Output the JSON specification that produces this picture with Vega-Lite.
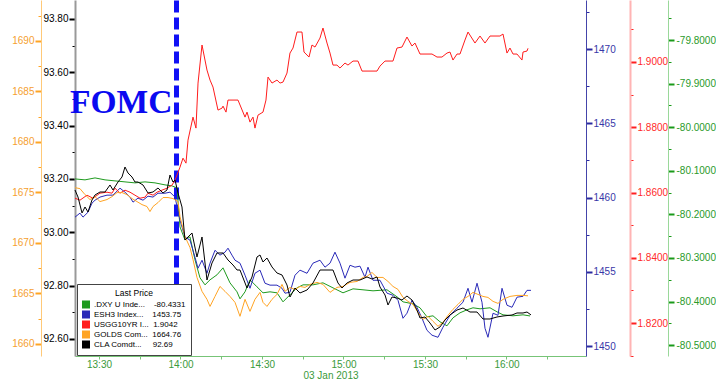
{
  "$schema": "https://vega.github.io/schema/vega-lite/v6.json",
  "width": 511,
  "height": 356,
  "autosize": {"type": "none"},
  "padding": {"left": 75, "right": 130, "top": 0, "bottom": 25},
  "background": "white",
  "title": {"text": "FOMC", "anchor": "start", "frame": "group", "orient": "top", "offset": 0, "dx": -5, "dy": 146, "baseline": "alphabetic", "font": "Liberation Serif", "fontSize": 33.5, "fontWeight": "bold", "color": "#0a0af0"},
  "config": {
    "view": {"stroke": null},
    "font": "Liberation Sans",
    "locale": {"number": {"decimal": ".", "thousands": ",", "grouping": [3], "currency": ["$", ""], "minus": "-"}},
    "axis": {"grid": false, "labelFont": "Liberation Sans", "labelFontSize": 10, "labelOverlap": false, "labelFlush": false}
  },
  "datasets": {
    "prices": [
      {"s":"DXY","t":"2013-01-03T13:21:10","v":-80.1186},
      {"s":"DXY","t":"2013-01-03T13:24:51","v":-80.1208},
      {"s":"DXY","t":"2013-01-03T13:28:32","v":-80.1163},
      {"s":"DXY","t":"2013-01-03T13:32:13","v":-80.1208},
      {"s":"DXY","t":"2013-01-03T13:35:53","v":-80.1231},
      {"s":"DXY","t":"2013-01-03T13:39:34","v":-80.1254},
      {"s":"DXY","t":"2013-01-03T13:43:15","v":-80.1277},
      {"s":"DXY","t":"2013-01-03T13:46:56","v":-80.1254},
      {"s":"DXY","t":"2013-01-03T13:50:37","v":-80.1277},
      {"s":"DXY","t":"2013-01-03T13:54:18","v":-80.1323},
      {"s":"DXY","t":"2013-01-03T13:56:52","v":-80.1346},
      {"s":"DXY","t":"2013-01-03T13:58:43","v":-80.1392},
      {"s":"DXY","t":"2013-01-03T13:59:49","v":-80.2287},
      {"s":"DXY","t":"2013-01-03T14:01:39","v":-80.2585},
      {"s":"DXY","t":"2013-01-03T14:03:30","v":-80.2516},
      {"s":"DXY","t":"2013-01-03T14:05:20","v":-80.3043},
      {"s":"DXY","t":"2013-01-03T14:07:11","v":-80.3456},
      {"s":"DXY","t":"2013-01-03T14:09:01","v":-80.3617},
      {"s":"DXY","t":"2013-01-03T14:10:52","v":-80.3502},
      {"s":"DXY","t":"2013-01-03T14:13:26","v":-80.3387},
      {"s":"DXY","t":"2013-01-03T14:15:39","v":-80.3227},
      {"s":"DXY","t":"2013-01-03T14:18:13","v":-80.3571},
      {"s":"DXY","t":"2013-01-03T14:20:48","v":-80.3777},
      {"s":"DXY","t":"2013-01-03T14:21:54","v":-80.3938},
      {"s":"DXY","t":"2013-01-03T14:23:45","v":-80.3777},
      {"s":"DXY","t":"2013-01-03T14:25:35","v":-80.3502},
      {"s":"DXY","t":"2013-01-03T14:28:10","v":-80.3663},
      {"s":"DXY","t":"2013-01-03T14:30:22","v":-80.3800},
      {"s":"DXY","t":"2013-01-03T14:32:57","v":-80.3777},
      {"s":"DXY","t":"2013-01-03T14:35:31","v":-80.3800},
      {"s":"DXY","t":"2013-01-03T14:37:44","v":-80.4007},
      {"s":"DXY","t":"2013-01-03T14:40:18","v":-80.3846},
      {"s":"DXY","t":"2013-01-03T14:42:53","v":-80.3686},
      {"s":"DXY","t":"2013-01-03T14:45:06","v":-80.3617},
      {"s":"DXY","t":"2013-01-03T14:48:46","v":-80.3617},
      {"s":"DXY","t":"2013-01-03T14:52:27","v":-80.3571},
      {"s":"DXY","t":"2013-01-03T14:56:08","v":-80.3686},
      {"s":"DXY","t":"2013-01-03T14:59:49","v":-80.3800},
      {"s":"DXY","t":"2013-01-03T15:03:30","v":-80.3709},
      {"s":"DXY","t":"2013-01-03T15:07:11","v":-80.3731},
      {"s":"DXY","t":"2013-01-03T15:10:52","v":-80.3754},
      {"s":"DXY","t":"2013-01-03T15:16:01","v":-80.3731},
      {"s":"DXY","t":"2013-01-03T15:19:42","v":-80.3892},
      {"s":"DXY","t":"2013-01-03T15:21:54","v":-80.4007},
      {"s":"DXY","t":"2013-01-03T15:25:35","v":-80.4053},
      {"s":"DXY","t":"2013-01-03T15:28:10","v":-80.4144},
      {"s":"DXY","t":"2013-01-03T15:30:44","v":-80.4351},
      {"s":"DXY","t":"2013-01-03T15:32:57","v":-80.4328},
      {"s":"DXY","t":"2013-01-03T15:35:31","v":-80.4465},
      {"s":"DXY","t":"2013-01-03T15:38:06","v":-80.4557},
      {"s":"DXY","t":"2013-01-03T15:40:18","v":-80.4374},
      {"s":"DXY","t":"2013-01-03T15:42:53","v":-80.4259},
      {"s":"DXY","t":"2013-01-03T15:45:28","v":-80.4190},
      {"s":"DXY","t":"2013-01-03T15:47:40","v":-80.4144},
      {"s":"DXY","t":"2013-01-03T15:50:15","v":-80.4167},
      {"s":"DXY","t":"2013-01-03T15:53:56","v":-80.4144},
      {"s":"DXY","t":"2013-01-03T15:56:30","v":-80.4236},
      {"s":"DXY","t":"2013-01-03T15:58:43","v":-80.4305},
      {"s":"DXY","t":"2013-01-03T16:02:24","v":-80.4328},
      {"s":"DXY","t":"2013-01-03T16:06:05","v":-80.4305},
      {"s":"DXY","t":"2013-01-03T16:08:39","v":-80.4331},

      {"s":"ESH3","t":"2013-01-03T13:21:10","v":1458.68},
      {"s":"ESH3","t":"2013-01-03T13:23:00","v":1458.95},
      {"s":"ESH3","t":"2013-01-03T13:24:07","v":1458.68},
      {"s":"ESH3","t":"2013-01-03T13:25:57","v":1459.01},
      {"s":"ESH3","t":"2013-01-03T13:27:25","v":1459.62},
      {"s":"ESH3","t":"2013-01-03T13:28:32","v":1459.82},
      {"s":"ESH3","t":"2013-01-03T13:30:22","v":1460.03},
      {"s":"ESH3","t":"2013-01-03T13:32:57","v":1460.16},
      {"s":"ESH3","t":"2013-01-03T13:35:09","v":1460.16},
      {"s":"ESH3","t":"2013-01-03T13:37:44","v":1460.63},
      {"s":"ESH3","t":"2013-01-03T13:39:34","v":1460.36},
      {"s":"ESH3","t":"2013-01-03T13:41:25","v":1460.03},
      {"s":"ESH3","t":"2013-01-03T13:42:31","v":1459.69},
      {"s":"ESH3","t":"2013-01-03T13:44:21","v":1459.96},
      {"s":"ESH3","t":"2013-01-03T13:46:12","v":1459.82},
      {"s":"ESH3","t":"2013-01-03T13:48:02","v":1460.09},
      {"s":"ESH3","t":"2013-01-03T13:49:53","v":1460.03},
      {"s":"ESH3","t":"2013-01-03T13:51:43","v":1460.29},
      {"s":"ESH3","t":"2013-01-03T13:54:18","v":1460.29},
      {"s":"ESH3","t":"2013-01-03T13:56:08","v":1460.36},
      {"s":"ESH3","t":"2013-01-03T13:57:59","v":1460.03},
      {"s":"ESH3","t":"2013-01-03T13:59:49","v":1458.48},
      {"s":"ESH3","t":"2013-01-03T14:01:39","v":1457.33},
      {"s":"ESH3","t":"2013-01-03T14:03:30","v":1457.13},
      {"s":"ESH3","t":"2013-01-03T14:05:20","v":1455.98},
      {"s":"ESH3","t":"2013-01-03T14:06:27","v":1455.24},
      {"s":"ESH3","t":"2013-01-03T14:07:55","v":1455.78},
      {"s":"ESH3","t":"2013-01-03T14:09:45","v":1454.90},
      {"s":"ESH3","t":"2013-01-03T14:10:52","v":1455.58},
      {"s":"ESH3","t":"2013-01-03T14:12:42","v":1456.45},
      {"s":"ESH3","t":"2013-01-03T14:14:32","v":1456.12},
      {"s":"ESH3","t":"2013-01-03T14:16:23","v":1456.32},
      {"s":"ESH3","t":"2013-01-03T14:17:29","v":1456.59},
      {"s":"ESH3","t":"2013-01-03T14:18:57","v":1456.12},
      {"s":"ESH3","t":"2013-01-03T14:20:04","v":1455.78},
      {"s":"ESH3","t":"2013-01-03T14:21:54","v":1455.58},
      {"s":"ESH3","t":"2013-01-03T14:23:45","v":1454.77},
      {"s":"ESH3","t":"2013-01-03T14:25:35","v":1453.89},
      {"s":"ESH3","t":"2013-01-03T14:27:25","v":1454.90},
      {"s":"ESH3","t":"2013-01-03T14:29:16","v":1455.11},
      {"s":"ESH3","t":"2013-01-03T14:31:06","v":1454.23},
      {"s":"ESH3","t":"2013-01-03T14:32:57","v":1454.10},
      {"s":"ESH3","t":"2013-01-03T14:35:31","v":1454.10},
      {"s":"ESH3","t":"2013-01-03T14:37:22","v":1453.89},
      {"s":"ESH3","t":"2013-01-03T14:38:28","v":1453.56},
      {"s":"ESH3","t":"2013-01-03T14:40:18","v":1453.62},
      {"s":"ESH3","t":"2013-01-03T14:42:09","v":1454.77},
      {"s":"ESH3","t":"2013-01-03T14:43:59","v":1455.11},
      {"s":"ESH3","t":"2013-01-03T14:46:34","v":1454.90},
      {"s":"ESH3","t":"2013-01-03T14:48:46","v":1455.58},
      {"s":"ESH3","t":"2013-01-03T14:51:21","v":1455.78},
      {"s":"ESH3","t":"2013-01-03T14:53:11","v":1455.31},
      {"s":"ESH3","t":"2013-01-03T14:55:02","v":1455.58},
      {"s":"ESH3","t":"2013-01-03T14:56:52","v":1456.32},
      {"s":"ESH3","t":"2013-01-03T14:58:43","v":1455.58},
      {"s":"ESH3","t":"2013-01-03T15:00:33","v":1454.57},
      {"s":"ESH3","t":"2013-01-03T15:02:24","v":1455.44},
      {"s":"ESH3","t":"2013-01-03T15:04:14","v":1455.31},
      {"s":"ESH3","t":"2013-01-03T15:06:04","v":1455.38},
      {"s":"ESH3","t":"2013-01-03T15:07:55","v":1454.63},
      {"s":"ESH3","t":"2013-01-03T15:09:01","v":1455.31},
      {"s":"ESH3","t":"2013-01-03T15:10:52","v":1454.43},
      {"s":"ESH3","t":"2013-01-03T15:13:26","v":1454.43},
      {"s":"ESH3","t":"2013-01-03T15:16:01","v":1453.56},
      {"s":"ESH3","t":"2013-01-03T15:18:13","v":1453.42},
      {"s":"ESH3","t":"2013-01-03T15:20:04","v":1453.08},
      {"s":"ESH3","t":"2013-01-03T15:21:54","v":1451.87},
      {"s":"ESH3","t":"2013-01-03T15:23:22","v":1452.21},
      {"s":"ESH3","t":"2013-01-03T15:25:13","v":1453.08},
      {"s":"ESH3","t":"2013-01-03T15:27:03","v":1452.61},
      {"s":"ESH3","t":"2013-01-03T15:28:54","v":1451.87},
      {"s":"ESH3","t":"2013-01-03T15:30:44","v":1451.06},
      {"s":"ESH3","t":"2013-01-03T15:32:35","v":1450.73},
      {"s":"ESH3","t":"2013-01-03T15:34:47","v":1450.59},
      {"s":"ESH3","t":"2013-01-03T15:36:38","v":1451.27},
      {"s":"ESH3","t":"2013-01-03T15:39:12","v":1452.07},
      {"s":"ESH3","t":"2013-01-03T15:41:47","v":1452.55},
      {"s":"ESH3","t":"2013-01-03T15:43:59","v":1452.95},
      {"s":"ESH3","t":"2013-01-03T15:45:50","v":1453.89},
      {"s":"ESH3","t":"2013-01-03T15:47:18","v":1452.95},
      {"s":"ESH3","t":"2013-01-03T15:49:09","v":1454.23},
      {"s":"ESH3","t":"2013-01-03T15:50:59","v":1452.95},
      {"s":"ESH3","t":"2013-01-03T15:52:05","v":1451.20},
      {"s":"ESH3","t":"2013-01-03T15:53:11","v":1450.59},
      {"s":"ESH3","t":"2013-01-03T15:55:02","v":1452.21},
      {"s":"ESH3","t":"2013-01-03T15:56:52","v":1452.07},
      {"s":"ESH3","t":"2013-01-03T15:58:21","v":1453.89},
      {"s":"ESH3","t":"2013-01-03T16:00:11","v":1452.75},
      {"s":"ESH3","t":"2013-01-03T16:02:02","v":1452.61},
      {"s":"ESH3","t":"2013-01-03T16:03:52","v":1453.29},
      {"s":"ESH3","t":"2013-01-03T16:06:05","v":1453.35},
      {"s":"ESH3","t":"2013-01-03T16:07:33","v":1453.75},
      {"s":"ESH3","t":"2013-01-03T16:09:01","v":1453.75},

      {"s":"USGG","t":"2013-01-03T13:21:10","v":1.85826},
      {"s":"USGG","t":"2013-01-03T13:23:00","v":1.85765},
      {"s":"USGG","t":"2013-01-03T13:25:35","v":1.85918},
      {"s":"USGG","t":"2013-01-03T13:27:47","v":1.85826},
      {"s":"USGG","t":"2013-01-03T13:30:22","v":1.85980},
      {"s":"USGG","t":"2013-01-03T13:32:57","v":1.86010},
      {"s":"USGG","t":"2013-01-03T13:34:47","v":1.85980},
      {"s":"USGG","t":"2013-01-03T13:35:53","v":1.86133},
      {"s":"USGG","t":"2013-01-03T13:37:44","v":1.85980},
      {"s":"USGG","t":"2013-01-03T13:39:34","v":1.86072},
      {"s":"USGG","t":"2013-01-03T13:41:25","v":1.86010},
      {"s":"USGG","t":"2013-01-03T13:43:15","v":1.85918},
      {"s":"USGG","t":"2013-01-03T13:45:06","v":1.85826},
      {"s":"USGG","t":"2013-01-03T13:46:56","v":1.85857},
      {"s":"USGG","t":"2013-01-03T13:48:02","v":1.85980},
      {"s":"USGG","t":"2013-01-03T13:49:53","v":1.85918},
      {"s":"USGG","t":"2013-01-03T13:51:21","v":1.86010},
      {"s":"USGG","t":"2013-01-03T13:53:11","v":1.86072},
      {"s":"USGG","t":"2013-01-03T13:55:02","v":1.86133},
      {"s":"USGG","t":"2013-01-03T13:56:52","v":1.86225},
      {"s":"USGG","t":"2013-01-03T13:57:59","v":1.86379},
      {"s":"USGG","t":"2013-01-03T13:59:49","v":1.86777},
      {"s":"USGG","t":"2013-01-03T14:00:55","v":1.87053},
      {"s":"USGG","t":"2013-01-03T14:02:01","v":1.86900},
      {"s":"USGG","t":"2013-01-03T14:02:46","v":1.87606},
      {"s":"USGG","t":"2013-01-03T14:04:36","v":1.88311},
      {"s":"USGG","t":"2013-01-03T14:05:42","v":1.87974},
      {"s":"USGG","t":"2013-01-03T14:06:27","v":1.89354},
      {"s":"USGG","t":"2013-01-03T14:07:55","v":1.90520},
      {"s":"USGG","t":"2013-01-03T14:09:45","v":1.89753},
      {"s":"USGG","t":"2013-01-03T14:10:52","v":1.89446},
      {"s":"USGG","t":"2013-01-03T14:11:58","v":1.89231},
      {"s":"USGG","t":"2013-01-03T14:13:48","v":1.88526},
      {"s":"USGG","t":"2013-01-03T14:15:17","v":1.88587},
      {"s":"USGG","t":"2013-01-03T14:15:39","v":1.88648},
      {"s":"USGG","t":"2013-01-03T14:16:45","v":1.88464},
      {"s":"USGG","t":"2013-01-03T14:17:29","v":1.88833},
      {"s":"USGG","t":"2013-01-03T14:19:20","v":1.88833},
      {"s":"USGG","t":"2013-01-03T14:21:10","v":1.88833},
      {"s":"USGG","t":"2013-01-03T14:23:45","v":1.88311},
      {"s":"USGG","t":"2013-01-03T14:24:29","v":1.88464},
      {"s":"USGG","t":"2013-01-03T14:25:35","v":1.88158},
      {"s":"USGG","t":"2013-01-03T14:26:41","v":1.88311},
      {"s":"USGG","t":"2013-01-03T14:27:25","v":1.87974},
      {"s":"USGG","t":"2013-01-03T14:28:32","v":1.88372},
      {"s":"USGG","t":"2013-01-03T14:30:22","v":1.88464},
      {"s":"USGG","t":"2013-01-03T14:31:28","v":1.88833},
      {"s":"USGG","t":"2013-01-03T14:32:13","v":1.89538},
      {"s":"USGG","t":"2013-01-03T14:33:41","v":1.89354},
      {"s":"USGG","t":"2013-01-03T14:35:31","v":1.89446},
      {"s":"USGG","t":"2013-01-03T14:36:38","v":1.89354},
      {"s":"USGG","t":"2013-01-03T14:37:44","v":1.89385},
      {"s":"USGG","t":"2013-01-03T14:39:12","v":1.89661},
      {"s":"USGG","t":"2013-01-03T14:40:18","v":1.90274},
      {"s":"USGG","t":"2013-01-03T14:41:25","v":1.90428},
      {"s":"USGG","t":"2013-01-03T14:42:53","v":1.90918},
      {"s":"USGG","t":"2013-01-03T14:44:43","v":1.90918},
      {"s":"USGG","t":"2013-01-03T14:45:28","v":1.90305},
      {"s":"USGG","t":"2013-01-03T14:47:18","v":1.90152},
      {"s":"USGG","t":"2013-01-03T14:48:24","v":1.90520},
      {"s":"USGG","t":"2013-01-03T14:49:31","v":1.90458},
      {"s":"USGG","t":"2013-01-03T14:51:21","v":1.90734},
      {"s":"USGG","t":"2013-01-03T14:52:27","v":1.91041},
      {"s":"USGG","t":"2013-01-03T14:53:56","v":1.90581},
      {"s":"USGG","t":"2013-01-03T14:55:02","v":1.90274},
      {"s":"USGG","t":"2013-01-03T14:56:08","v":1.89906},
      {"s":"USGG","t":"2013-01-03T14:57:36","v":1.89906},
      {"s":"USGG","t":"2013-01-03T14:58:43","v":1.89814},
      {"s":"USGG","t":"2013-01-03T15:00:33","v":1.89968},
      {"s":"USGG","t":"2013-01-03T15:01:39","v":1.89906},
      {"s":"USGG","t":"2013-01-03T15:03:30","v":1.90029},
      {"s":"USGG","t":"2013-01-03T15:05:20","v":1.90029},
      {"s":"USGG","t":"2013-01-03T15:06:49","v":1.89722},
      {"s":"USGG","t":"2013-01-03T15:12:20","v":1.89722},
      {"s":"USGG","t":"2013-01-03T15:13:26","v":1.89875},
      {"s":"USGG","t":"2013-01-03T15:15:17","v":1.90029},
      {"s":"USGG","t":"2013-01-03T15:18:13","v":1.90029},
      {"s":"USGG","t":"2013-01-03T15:19:42","v":1.90428},
      {"s":"USGG","t":"2013-01-03T15:21:32","v":1.90458},
      {"s":"USGG","t":"2013-01-03T15:23:22","v":1.90765},
      {"s":"USGG","t":"2013-01-03T15:25:13","v":1.90489},
      {"s":"USGG","t":"2013-01-03T15:26:19","v":1.90581},
      {"s":"USGG","t":"2013-01-03T15:28:10","v":1.90244},
      {"s":"USGG","t":"2013-01-03T15:32:35","v":1.90244},
      {"s":"USGG","t":"2013-01-03T15:34:25","v":1.90152},
      {"s":"USGG","t":"2013-01-03T15:36:15","v":1.90152},
      {"s":"USGG","t":"2013-01-03T15:38:06","v":1.90274},
      {"s":"USGG","t":"2013-01-03T15:39:12","v":1.90305},
      {"s":"USGG","t":"2013-01-03T15:40:18","v":1.90060},
      {"s":"USGG","t":"2013-01-03T15:41:47","v":1.90244},
      {"s":"USGG","t":"2013-01-03T15:42:53","v":1.90244},
      {"s":"USGG","t":"2013-01-03T15:44:43","v":1.90673},
      {"s":"USGG","t":"2013-01-03T15:45:50","v":1.90918},
      {"s":"USGG","t":"2013-01-03T15:48:24","v":1.90581},
      {"s":"USGG","t":"2013-01-03T15:50:15","v":1.90796},
      {"s":"USGG","t":"2013-01-03T15:52:05","v":1.90581},
      {"s":"USGG","t":"2013-01-03T15:53:56","v":1.90796},
      {"s":"USGG","t":"2013-01-03T15:57:36","v":1.90796},
      {"s":"USGG","t":"2013-01-03T15:58:43","v":1.90857},
      {"s":"USGG","t":"2013-01-03T16:00:11","v":1.90274},
      {"s":"USGG","t":"2013-01-03T16:01:17","v":1.90428},
      {"s":"USGG","t":"2013-01-03T16:02:24","v":1.90244},
      {"s":"USGG","t":"2013-01-03T16:03:52","v":1.90244},
      {"s":"USGG","t":"2013-01-03T16:05:42","v":1.90060},
      {"s":"USGG","t":"2013-01-03T16:06:05","v":1.90305},
      {"s":"USGG","t":"2013-01-03T16:07:33","v":1.90336},
      {"s":"USGG","t":"2013-01-03T16:07:55","v":1.90420},

      {"s":"GOLDS","t":"2013-01-03T13:21:10","v":1675.47},
      {"s":"GOLDS","t":"2013-01-03T13:23:00","v":1675.37},
      {"s":"GOLDS","t":"2013-01-03T13:24:51","v":1674.78},
      {"s":"GOLDS","t":"2013-01-03T13:26:41","v":1674.29},
      {"s":"GOLDS","t":"2013-01-03T13:28:32","v":1674.58},
      {"s":"GOLDS","t":"2013-01-03T13:30:22","v":1674.09},
      {"s":"GOLDS","t":"2013-01-03T13:32:57","v":1674.29},
      {"s":"GOLDS","t":"2013-01-03T13:34:47","v":1674.58},
      {"s":"GOLDS","t":"2013-01-03T13:36:38","v":1674.98},
      {"s":"GOLDS","t":"2013-01-03T13:38:28","v":1674.98},
      {"s":"GOLDS","t":"2013-01-03T13:40:18","v":1674.78},
      {"s":"GOLDS","t":"2013-01-03T13:42:09","v":1674.39},
      {"s":"GOLDS","t":"2013-01-03T13:43:59","v":1674.09},
      {"s":"GOLDS","t":"2013-01-03T13:45:50","v":1673.79},
      {"s":"GOLDS","t":"2013-01-03T13:47:40","v":1673.60},
      {"s":"GOLDS","t":"2013-01-03T13:48:46","v":1673.10},
      {"s":"GOLDS","t":"2013-01-03T13:49:53","v":1673.60},
      {"s":"GOLDS","t":"2013-01-03T13:51:43","v":1673.99},
      {"s":"GOLDS","t":"2013-01-03T13:53:34","v":1674.49},
      {"s":"GOLDS","t":"2013-01-03T13:55:24","v":1674.49},
      {"s":"GOLDS","t":"2013-01-03T13:57:14","v":1674.39},
      {"s":"GOLDS","t":"2013-01-03T13:59:05","v":1674.09},
      {"s":"GOLDS","t":"2013-01-03T13:59:49","v":1672.61},
      {"s":"GOLDS","t":"2013-01-03T14:01:39","v":1670.63},
      {"s":"GOLDS","t":"2013-01-03T14:03:30","v":1669.54},
      {"s":"GOLDS","t":"2013-01-03T14:04:36","v":1668.36},
      {"s":"GOLDS","t":"2013-01-03T14:06:04","v":1666.58},
      {"s":"GOLDS","t":"2013-01-03T14:07:55","v":1665.20},
      {"s":"GOLDS","t":"2013-01-03T14:09:45","v":1664.41},
      {"s":"GOLDS","t":"2013-01-03T14:10:52","v":1663.71},
      {"s":"GOLDS","t":"2013-01-03T14:12:42","v":1664.70},
      {"s":"GOLDS","t":"2013-01-03T14:14:32","v":1665.69},
      {"s":"GOLDS","t":"2013-01-03T14:16:23","v":1665.20},
      {"s":"GOLDS","t":"2013-01-03T14:18:13","v":1664.70},
      {"s":"GOLDS","t":"2013-01-03T14:20:04","v":1664.11},
      {"s":"GOLDS","t":"2013-01-03T14:21:54","v":1662.73},
      {"s":"GOLDS","t":"2013-01-03T14:23:45","v":1664.41},
      {"s":"GOLDS","t":"2013-01-03T14:25:35","v":1663.22},
      {"s":"GOLDS","t":"2013-01-03T14:27:25","v":1664.41},
      {"s":"GOLDS","t":"2013-01-03T14:29:16","v":1665.10},
      {"s":"GOLDS","t":"2013-01-03T14:30:22","v":1664.11},
      {"s":"GOLDS","t":"2013-01-03T14:31:50","v":1663.71},
      {"s":"GOLDS","t":"2013-01-03T14:33:41","v":1664.41},
      {"s":"GOLDS","t":"2013-01-03T14:35:31","v":1664.90},
      {"s":"GOLDS","t":"2013-01-03T14:37:22","v":1665.89},
      {"s":"GOLDS","t":"2013-01-03T14:38:28","v":1665.20},
      {"s":"GOLDS","t":"2013-01-03T14:40:18","v":1665.59},
      {"s":"GOLDS","t":"2013-01-03T14:42:09","v":1665.39},
      {"s":"GOLDS","t":"2013-01-03T14:43:59","v":1665.69},
      {"s":"GOLDS","t":"2013-01-03T14:45:50","v":1665.59},
      {"s":"GOLDS","t":"2013-01-03T14:47:40","v":1665.89},
      {"s":"GOLDS","t":"2013-01-03T14:50:15","v":1666.09},
      {"s":"GOLDS","t":"2013-01-03T14:52:27","v":1665.89},
      {"s":"GOLDS","t":"2013-01-03T14:55:02","v":1665.10},
      {"s":"GOLDS","t":"2013-01-03T14:57:36","v":1665.59},
      {"s":"GOLDS","t":"2013-01-03T14:59:49","v":1665.69},
      {"s":"GOLDS","t":"2013-01-03T15:02:24","v":1666.09},
      {"s":"GOLDS","t":"2013-01-03T15:04:58","v":1666.18},
      {"s":"GOLDS","t":"2013-01-03T15:07:11","v":1666.58},
      {"s":"GOLDS","t":"2013-01-03T15:08:39","v":1666.68},
      {"s":"GOLDS","t":"2013-01-03T15:10:29","v":1667.07},
      {"s":"GOLDS","t":"2013-01-03T15:12:20","v":1666.58},
      {"s":"GOLDS","t":"2013-01-03T15:14:32","v":1666.58},
      {"s":"GOLDS","t":"2013-01-03T15:16:23","v":1666.18},
      {"s":"GOLDS","t":"2013-01-03T15:18:13","v":1665.69},
      {"s":"GOLDS","t":"2013-01-03T15:20:04","v":1665.39},
      {"s":"GOLDS","t":"2013-01-03T15:21:54","v":1664.60},
      {"s":"GOLDS","t":"2013-01-03T15:23:45","v":1664.21},
      {"s":"GOLDS","t":"2013-01-03T15:25:35","v":1663.91},
      {"s":"GOLDS","t":"2013-01-03T15:27:25","v":1663.12},
      {"s":"GOLDS","t":"2013-01-03T15:29:16","v":1662.43},
      {"s":"GOLDS","t":"2013-01-03T15:31:06","v":1662.73},
      {"s":"GOLDS","t":"2013-01-03T15:32:57","v":1662.23},
      {"s":"GOLDS","t":"2013-01-03T15:34:47","v":1661.74},
      {"s":"GOLDS","t":"2013-01-03T15:36:38","v":1662.13},
      {"s":"GOLDS","t":"2013-01-03T15:38:28","v":1662.83},
      {"s":"GOLDS","t":"2013-01-03T15:40:18","v":1663.42},
      {"s":"GOLDS","t":"2013-01-03T15:42:09","v":1663.91},
      {"s":"GOLDS","t":"2013-01-03T15:43:59","v":1664.41},
      {"s":"GOLDS","t":"2013-01-03T15:45:50","v":1664.70},
      {"s":"GOLDS","t":"2013-01-03T15:47:40","v":1665.10},
      {"s":"GOLDS","t":"2013-01-03T15:49:31","v":1664.90},
      {"s":"GOLDS","t":"2013-01-03T15:51:21","v":1664.70},
      {"s":"GOLDS","t":"2013-01-03T15:53:11","v":1664.60},
      {"s":"GOLDS","t":"2013-01-03T15:55:02","v":1664.21},
      {"s":"GOLDS","t":"2013-01-03T15:56:52","v":1664.01},
      {"s":"GOLDS","t":"2013-01-03T15:58:43","v":1664.41},
      {"s":"GOLDS","t":"2013-01-03T16:01:17","v":1664.70},
      {"s":"GOLDS","t":"2013-01-03T16:03:52","v":1664.80},
      {"s":"GOLDS","t":"2013-01-03T16:06:05","v":1664.80},
      {"s":"GOLDS","t":"2013-01-03T16:07:55","v":1664.76},

      {"s":"CLA","t":"2013-01-03T13:21:10","v":93.1585},
      {"s":"CLA","t":"2013-01-03T13:22:16","v":93.1323},
      {"s":"CLA","t":"2013-01-03T13:23:45","v":93.0723},
      {"s":"CLA","t":"2013-01-03T13:24:51","v":93.0948},
      {"s":"CLA","t":"2013-01-03T13:25:57","v":93.0760},
      {"s":"CLA","t":"2013-01-03T13:27:25","v":93.1210},
      {"s":"CLA","t":"2013-01-03T13:28:32","v":93.1398},
      {"s":"CLA","t":"2013-01-03T13:30:22","v":93.1510},
      {"s":"CLA","t":"2013-01-03T13:32:13","v":93.1510},
      {"s":"CLA","t":"2013-01-03T13:34:03","v":93.1773},
      {"s":"CLA","t":"2013-01-03T13:35:09","v":93.1585},
      {"s":"CLA","t":"2013-01-03T13:37:00","v":93.1885},
      {"s":"CLA","t":"2013-01-03T13:38:28","v":93.2073},
      {"s":"CLA","t":"2013-01-03T13:39:34","v":93.2448},
      {"s":"CLA","t":"2013-01-03T13:40:40","v":93.2223},
      {"s":"CLA","t":"2013-01-03T13:42:09","v":93.2073},
      {"s":"CLA","t":"2013-01-03T13:43:15","v":93.1885},
      {"s":"CLA","t":"2013-01-03T13:44:21","v":93.1885},
      {"s":"CLA","t":"2013-01-03T13:46:12","v":93.1773},
      {"s":"CLA","t":"2013-01-03T13:48:02","v":93.1473},
      {"s":"CLA","t":"2013-01-03T13:49:53","v":93.1510},
      {"s":"CLA","t":"2013-01-03T13:51:43","v":93.1660},
      {"s":"CLA","t":"2013-01-03T13:53:34","v":93.1473},
      {"s":"CLA","t":"2013-01-03T13:55:02","v":93.1585},
      {"s":"CLA","t":"2013-01-03T13:56:08","v":93.2148},
      {"s":"CLA","t":"2013-01-03T13:57:14","v":93.1885},
      {"s":"CLA","t":"2013-01-03T13:57:59","v":93.1960},
      {"s":"CLA","t":"2013-01-03T13:59:05","v":93.1473},
      {"s":"CLA","t":"2013-01-03T14:00:33","v":93.0948},
      {"s":"CLA","t":"2013-01-03T14:01:39","v":92.9710},
      {"s":"CLA","t":"2013-01-03T14:02:46","v":92.9823},
      {"s":"CLA","t":"2013-01-03T14:04:14","v":92.9973},
      {"s":"CLA","t":"2013-01-03T14:06:04","v":92.9073},
      {"s":"CLA","t":"2013-01-03T14:07:55","v":92.9823},
      {"s":"CLA","t":"2013-01-03T14:09:45","v":92.8210},
      {"s":"CLA","t":"2013-01-03T14:11:36","v":92.8848},
      {"s":"CLA","t":"2013-01-03T14:13:26","v":92.9223},
      {"s":"CLA","t":"2013-01-03T14:15:39","v":92.9223},
      {"s":"CLA","t":"2013-01-03T14:17:29","v":92.8960},
      {"s":"CLA","t":"2013-01-03T14:19:20","v":92.8773},
      {"s":"CLA","t":"2013-01-03T14:20:48","v":92.8585},
      {"s":"CLA","t":"2013-01-03T14:21:54","v":92.8585},
      {"s":"CLA","t":"2013-01-03T14:24:29","v":92.7910},
      {"s":"CLA","t":"2013-01-03T14:26:19","v":92.8323},
      {"s":"CLA","t":"2013-01-03T14:28:10","v":92.9073},
      {"s":"CLA","t":"2013-01-03T14:29:16","v":92.9148},
      {"s":"CLA","t":"2013-01-03T14:30:22","v":92.8885},
      {"s":"CLA","t":"2013-01-03T14:31:50","v":92.9035},
      {"s":"CLA","t":"2013-01-03T14:33:41","v":92.8698},
      {"s":"CLA","t":"2013-01-03T14:35:31","v":92.8473},
      {"s":"CLA","t":"2013-01-03T14:37:22","v":92.8398},
      {"s":"CLA","t":"2013-01-03T14:39:12","v":92.8023},
      {"s":"CLA","t":"2013-01-03T14:40:18","v":92.7573},
      {"s":"CLA","t":"2013-01-03T14:42:09","v":92.7910},
      {"s":"CLA","t":"2013-01-03T14:43:59","v":92.7723},
      {"s":"CLA","t":"2013-01-03T14:46:34","v":92.7835},
      {"s":"CLA","t":"2013-01-03T14:48:46","v":92.8098},
      {"s":"CLA","t":"2013-01-03T14:51:21","v":92.8585},
      {"s":"CLA","t":"2013-01-03T14:53:56","v":92.8585},
      {"s":"CLA","t":"2013-01-03T14:56:08","v":92.8585},
      {"s":"CLA","t":"2013-01-03T14:57:58","v":92.8098},
      {"s":"CLA","t":"2013-01-03T14:59:27","v":92.7910},
      {"s":"CLA","t":"2013-01-03T15:01:17","v":92.8098},
      {"s":"CLA","t":"2013-01-03T15:03:30","v":92.8210},
      {"s":"CLA","t":"2013-01-03T15:06:04","v":92.8210},
      {"s":"CLA","t":"2013-01-03T15:08:39","v":92.8323},
      {"s":"CLA","t":"2013-01-03T15:10:29","v":92.8248},
      {"s":"CLA","t":"2013-01-03T15:12:20","v":92.8323},
      {"s":"CLA","t":"2013-01-03T15:13:26","v":92.7948},
      {"s":"CLA","t":"2013-01-03T15:15:17","v":92.7648},
      {"s":"CLA","t":"2013-01-03T15:16:23","v":92.7273},
      {"s":"CLA","t":"2013-01-03T15:17:51","v":92.7573},
      {"s":"CLA","t":"2013-01-03T15:19:42","v":92.7535},
      {"s":"CLA","t":"2013-01-03T15:21:32","v":92.7460},
      {"s":"CLA","t":"2013-01-03T15:23:22","v":92.7610},
      {"s":"CLA","t":"2013-01-03T15:25:13","v":92.7460},
      {"s":"CLA","t":"2013-01-03T15:27:03","v":92.7085},
      {"s":"CLA","t":"2013-01-03T15:28:10","v":92.6785},
      {"s":"CLA","t":"2013-01-03T15:30:00","v":92.6823},
      {"s":"CLA","t":"2013-01-03T15:31:50","v":92.6598},
      {"s":"CLA","t":"2013-01-03T15:33:41","v":92.6335},
      {"s":"CLA","t":"2013-01-03T15:35:31","v":92.6448},
      {"s":"CLA","t":"2013-01-03T15:37:22","v":92.6710},
      {"s":"CLA","t":"2013-01-03T15:39:12","v":92.6898},
      {"s":"CLA","t":"2013-01-03T15:41:47","v":92.7085},
      {"s":"CLA","t":"2013-01-03T15:43:59","v":92.7160},
      {"s":"CLA","t":"2013-01-03T15:46:34","v":92.7010},
      {"s":"CLA","t":"2013-01-03T15:49:09","v":92.7010},
      {"s":"CLA","t":"2013-01-03T15:51:21","v":92.6748},
      {"s":"CLA","t":"2013-01-03T15:53:56","v":92.6748},
      {"s":"CLA","t":"2013-01-03T15:56:30","v":92.6823},
      {"s":"CLA","t":"2013-01-03T15:58:43","v":92.6860},
      {"s":"CLA","t":"2013-01-03T16:02:02","v":92.6898},
      {"s":"CLA","t":"2013-01-03T16:03:52","v":92.6973},
      {"s":"CLA","t":"2013-01-03T16:06:05","v":92.6973},
      {"s":"CLA","t":"2013-01-03T16:07:33","v":92.7010},
      {"s":"CLA","t":"2013-01-03T16:09:01","v":92.6900}
    ]
  },
  "data": {"name": "prices"},
  "encoding": {
    "x": {
      "field": "t", "type": "temporal",
      "scale": {"domain": [{"year": 2013, "month": 1, "date": 3, "hours": 13, "minutes": 21, "seconds": 10}, {"year": 2013, "month": 1, "date": 3, "hours": 16, "minutes": 29, "seconds": 16}]},
      "axis": {
        "title": "03 Jan 2013", "titleColor": "#3a9a3a", "titleFontSize": 10, "titleFontWeight": "normal", "titleFont": "Liberation Sans", "titlePadding": 1,
        "values": [
          {"year": 2013, "month": 1, "date": 3, "hours": 13, "minutes": 30},
          {"year": 2013, "month": 1, "date": 3, "hours": 13, "minutes": 45},
          {"year": 2013, "month": 1, "date": 3, "hours": 13, "minutes": 58, "seconds": 21},
          {"year": 2013, "month": 1, "date": 3, "hours": 14, "minutes": 0},
          {"year": 2013, "month": 1, "date": 3, "hours": 14, "minutes": 15},
          {"year": 2013, "month": 1, "date": 3, "hours": 14, "minutes": 30},
          {"year": 2013, "month": 1, "date": 3, "hours": 14, "minutes": 45},
          {"year": 2013, "month": 1, "date": 3, "hours": 15, "minutes": 0},
          {"year": 2013, "month": 1, "date": 3, "hours": 15, "minutes": 15},
          {"year": 2013, "month": 1, "date": 3, "hours": 15, "minutes": 30},
          {"year": 2013, "month": 1, "date": 3, "hours": 15, "minutes": 45},
          {"year": 2013, "month": 1, "date": 3, "hours": 16, "minutes": 0},
          {"year": 2013, "month": 1, "date": 3, "hours": 16, "minutes": 15}
        ],
        "labelExpr": "minutes(datum.value) % 30 == 0 ? timeFormat(datum.value, '%H:%M') : ''",
        "labelColor": "#3a9a3a", "labelFontSize": 10, "labelPadding": 0,
        "domainColor": "#77c477", "tickColor": "#77c477",
        "tickSize": {"condition": {"test": "minutes(datum.value) % 15 == 0", "value": 3}, "value": 0},
        "grid": true, "gridColor": "#1010f5", "gridWidth": 5, "gridDash": [12, 5],
        "gridOpacity": {"condition": {"test": "minutes(datum.value) % 15 == 0", "value": 0}, "value": 1}
      }
    },
    "color": {
      "field": "s", "type": "nominal",
      "scale": {"domain": ["DXY", "ESH3", "USGG", "GOLDS", "CLA"], "range": ["#1e9a1e", "#2a2ab8", "#ff1c1c", "#ffa424", "#000000"]},
      "legend": {
        "orient": "none", "legendX": 2, "legendY": 284, "zindex": 1,
        "title": "Last Price", "titleAnchor": "middle", "titleFont": "Liberation Sans", "titleFontSize": 8.5, "titleFontWeight": "normal", "titleColor": "#000", "titlePadding": 2,
        "fillColor": "white", "strokeColor": "#444", "padding": 5,
        "symbolType": "square", "symbolSize": 16, "symbolStrokeWidth": 4, "symbolOpacity": 1,
        "clipHeight": 10, "rowPadding": 0,
        "labelFont": "Liberation Sans", "labelFontSize": 8, "labelColor": "#000", "labelOffset": 4, "labelLimit": 200,
        "labelExpr": "datum.label == 'DXY' ? '.DXY U Inde...\u00a0\u00a0\u00a0\u00a0-80.4331' : datum.label == 'ESH3' ? 'ESH3 Index...\u00a0\u00a0\u00a0\u00a01453.75' : datum.label == 'USGG' ? 'USGG10YR I...\u00a0\u00a01.9042' : datum.label == 'GOLDS' ? 'GOLDS Com...\u00a0\u00a01664.76' : 'CLA Comdt...\u00a0\u00a0\u00a0\u00a0\u00a092.69'"
      }
    }
  },
  "resolve": {"scale": {"y": "independent"}},
  "layer": [
    {
      "transform": [{"filter": "datum.s === 'DXY'"}],
      "encoding": {
        "y": {"field": "v", "type": "quantitative",
          "scale": {"domain": [-80.525, -79.708], "nice": false, "zero": false},
          "axis": {"orient": "right", "offset": 82, "title": null,
            "values": [-80.5, -80.45, -80.4, -80.35, -80.3, -80.25, -80.2, -80.15, -80.1, -80.05, -80.0, -79.95, -79.9, -79.85, -79.8, -79.75],
            "labelExpr": "round(datum.value*20) % 2 == 0 ? format(datum.value, '.4f') : ''",
            "labelColor": "#2a9a2a", "labelPadding": 2, "domainColor": "#9ad89a", "tickColor": "#1a9a1a",
            "tickSize": {"condition": {"test": "round(datum.value*20) % 2 == 0", "value": 6}, "value": 3},
            "tickWidth": {"condition": {"test": "round(datum.value*20) % 2 == 0", "value": 2}, "value": 1}}}
      },
      "layer": [
        {"mark": {"type": "line", "strokeWidth": 1}}
      ]
    },
    {
      "transform": [{"filter": "datum.s === 'ESH3'"}],
      "encoding": {
        "y": {"field": "v", "type": "quantitative",
          "scale": {"domain": [1449.33, 1473.3], "nice": false, "zero": false},
          "axis": {"orient": "right", "offset": 0, "title": null,
            "values": [1450, 1452.5, 1455, 1457.5, 1460, 1462.5, 1465, 1467.5, 1470, 1472.5],
            "labelExpr": "datum.value % 5 == 0 ? format(datum.value, 'd') : ''",
            "labelColor": "#3838a8", "labelPadding": 1, "domainColor": "#4444aa", "tickColor": "#2a2aa0",
            "tickSize": {"condition": {"test": "datum.value % 5 == 0", "value": 6}, "value": 3},
            "tickWidth": {"condition": {"test": "datum.value % 5 == 0", "value": 2}, "value": 1}}}
      },
      "layer": [
        {"mark": {"type": "line", "strokeWidth": 1}}
      ]
    },
    {
      "transform": [{"filter": "datum.s === 'USGG'"}],
      "encoding": {
        "y": {"field": "v", "type": "quantitative",
          "scale": {"domain": [1.8099, 1.919], "nice": false, "zero": false},
          "axis": {"orient": "right", "offset": 44, "title": null,
            "values": [1.81, 1.82, 1.83, 1.84, 1.85, 1.86, 1.87, 1.88, 1.89, 1.9, 1.91],
            "labelExpr": "round(datum.value*100) % 2 == 0 ? format(datum.value, '.4f') : ''",
            "labelColor": "#ff2a2a", "labelPadding": 1, "domainColor": "#ffb4b4", "domainWidth": 2, "tickColor": "#ff2020",
            "tickSize": {"condition": {"test": "round(datum.value*100) % 2 == 0", "value": 6}, "value": 3},
            "tickWidth": {"condition": {"test": "round(datum.value*100) % 2 == 0", "value": 2}, "value": 1}}}
      },
      "layer": [
        {"mark": {"type": "line", "strokeWidth": 1}}
      ]
    },
    {
      "transform": [{"filter": "datum.s === 'GOLDS'"}],
      "encoding": {
        "y": {"field": "v", "type": "quantitative",
          "scale": {"domain": [1658.8, 1694.05], "nice": false, "zero": false},
          "axis": {"orient": "left", "offset": 34, "title": null,
            "values": [1660, 1662.5, 1665, 1667.5, 1670, 1672.5, 1675, 1677.5, 1680, 1682.5, 1685, 1687.5, 1690, 1692.5],
            "labelExpr": "datum.value % 5 == 0 ? format(datum.value, 'd') : ''",
            "labelColor": "#f5a030", "labelPadding": 1, "domainColor": "#ffc978", "tickColor": "#ffa424",
            "tickSize": {"condition": {"test": "datum.value % 5 == 0", "value": 6}, "value": 3},
            "tickWidth": {"condition": {"test": "datum.value % 5 == 0", "value": 2}, "value": 1}}}
      },
      "layer": [
        {"mark": {"type": "line", "strokeWidth": 1}}
      ]
    },
    {
      "transform": [{"filter": "datum.s === 'CLA'"}],
      "encoding": {
        "y": {"field": "v", "type": "quantitative",
          "scale": {"domain": [92.536, 93.871], "nice": false, "zero": false},
          "axis": {"orient": "left", "offset": 0, "title": null,
            "values": [92.6, 92.7, 92.8, 92.9, 93.0, 93.1, 93.2, 93.3, 93.4, 93.5, 93.6, 93.7, 93.8],
            "labelExpr": "round(datum.value*10) % 2 == 0 ? format(datum.value, '.2f') : ''",
            "labelColor": "#000", "labelPadding": 1, "domainColor": "#999999", "domainWidth": 2, "tickColor": "#000",
            "tickSize": {"condition": {"test": "round(datum.value*10) % 2 == 0", "value": 6}, "value": 3},
            "tickWidth": {"condition": {"test": "round(datum.value*10) % 2 == 0", "value": 2}, "value": 1}}}
      },
      "layer": [
        {"mark": {"type": "line", "strokeWidth": 1}}
      ]
    }
  ]
}
